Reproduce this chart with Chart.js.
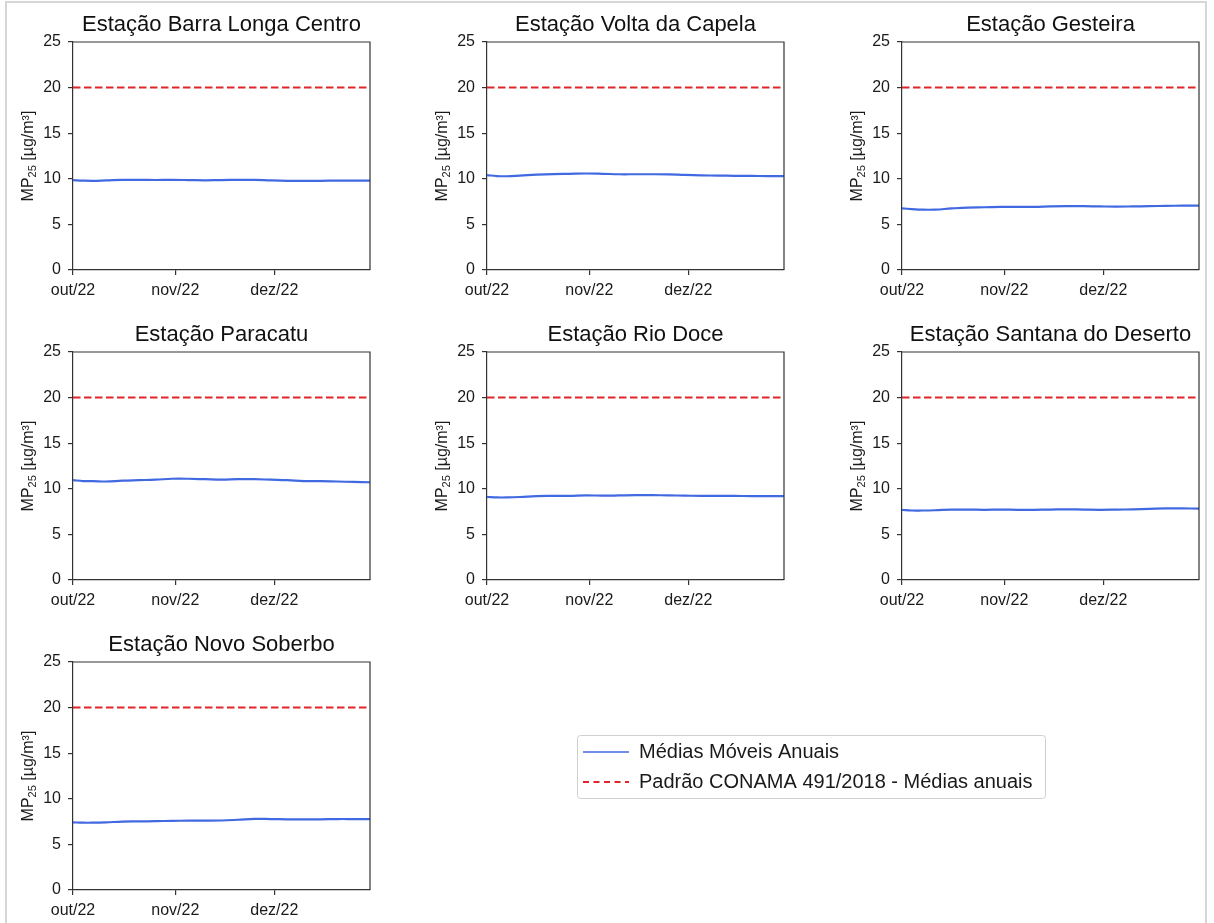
<!DOCTYPE html>
<html>
<head>
<meta charset="utf-8">
<script src="https://cdn.jsdelivr.net/npm/chart.js@4.4.1/dist/chart.umd.min.js"></script>
<style>
  html, body { margin: 0; padding: 0; background: #fff; overflow: hidden; }
  #page { position: relative; width: 1214px; height: 923px; overflow: hidden; }
  #frame { position: absolute; left: 5px; top: 1px; width: 1202px; height: 1000px; border: 2px solid #d6d6d6; box-sizing: border-box; }
  canvas { position: absolute; }
</style>
</head>
<body>
<div id="page">
  <div id="frame"></div>
</div>

<script type="text/javascript">
    // dias desde 01/out/22
    var days = [0, 3, 6, 10, 15, 20, 25, 30, 35, 40, 45, 50, 55, 60, 65, 70, 75, 80, 85, 90];
    var tickDays = [0, 31, 61];
    var tickLabels = ['out/22', 'nov/22', 'dez/22'];
    var yTicks = [0, 5, 10, 15, 20, 25];
    var limitValue = 20;

    var stations = [
        'Estação Barra Longa Centro',
        'Estação Volta da Capela',
        'Estação Gesteira',
        'Estação Paracatu',
        'Estação Rio Doce',
        'Estação Santana do Deserto',
        'Estação Novo Soberbo'
    ];

    var serieBarraLonga = [9.85, 9.8, 9.78, 9.82, 9.88, 9.88, 9.87, 9.88, 9.86, 9.83, 9.86, 9.88, 9.88, 9.82, 9.78, 9.77, 9.78, 9.8, 9.8, 9.8];
    var serieVoltaCapela = [10.4, 10.3, 10.28, 10.35, 10.45, 10.52, 10.55, 10.58, 10.55, 10.5, 10.5, 10.5, 10.48, 10.42, 10.38, 10.35, 10.33, 10.32, 10.3, 10.3];
    var serieGesteira = [6.75, 6.68, 6.62, 6.62, 6.75, 6.85, 6.88, 6.92, 6.92, 6.92, 6.97, 7.0, 7.0, 6.97, 6.95, 6.97, 7.0, 7.03, 7.05, 7.05];
    var serieParacatu = [10.95, 10.85, 10.85, 10.8, 10.9, 10.95, 11.0, 11.1, 11.1, 11.05, 11.0, 11.05, 11.05, 11.0, 10.95, 10.85, 10.85, 10.8, 10.75, 10.72];
    var serieRioDoce = [9.1, 9.05, 9.05, 9.1, 9.2, 9.22, 9.23, 9.28, 9.25, 9.27, 9.3, 9.3, 9.28, 9.25, 9.22, 9.22, 9.22, 9.2, 9.2, 9.2];
    var serieSantana = [7.7, 7.62, 7.62, 7.65, 7.72, 7.72, 7.7, 7.72, 7.7, 7.7, 7.72, 7.75, 7.72, 7.7, 7.72, 7.75, 7.8, 7.85, 7.85, 7.83];
    var serieNovoSoberbo = [7.42, 7.38, 7.38, 7.42, 7.5, 7.52, 7.55, 7.58, 7.6, 7.6, 7.62, 7.7, 7.8, 7.78, 7.75, 7.75, 7.75, 7.78, 7.78, 7.78];

    var series = [serieBarraLonga, serieVoltaCapela, serieGesteira, serieParacatu, serieRioDoce, serieSantana, serieNovoSoberbo];

    var legendLabels = ['Médias Móveis Anuais', 'Padrão CONAMA 491/2018 - Médias anuais'];
    var yTitleMain = 'MP', yTitleSub = '25', yTitleUnit = ' [µg/m³]';

    var FONT = "'Liberation Sans', Arial, sans-serif";
    var BLUE = '#4169e1', RED = '#e0262b', AXIS = '#333333', TEXT = '#1a1a1a';

    Chart.defaults.font.family = FONT;
    Chart.defaults.color = TEXT;

    // caixa completa (topo e direita) em volta da área do gráfico
    var boxPlugin = {
        id: 'boxPlugin',
        afterDraw: function(chart){
            var a = chart.chartArea, ctx = chart.ctx;
            ctx.save();
            ctx.strokeStyle = AXIS;
            ctx.lineWidth = 1.2;
            ctx.beginPath();
            ctx.moveTo(a.left, a.top);
            ctx.lineTo(a.right, a.top);
            ctx.lineTo(a.right, a.bottom);
            ctx.stroke();
            ctx.restore();
        }
    };

    // titulo do eixo y com subscrito
    var yTitlePlugin = {
        id: 'yTitlePlugin',
        afterDraw: function(chart){
            var a = chart.chartArea, ctx = chart.ctx;
            var big = '16px ' + FONT, small = '11px ' + FONT;
            ctx.save();
            ctx.translate(a.left - 44, (a.top + a.bottom) / 2);
            ctx.rotate(-Math.PI / 2);
            ctx.fillStyle = TEXT;
            ctx.textBaseline = 'middle';
            ctx.textAlign = 'left';
            ctx.font = big;
            var w1 = ctx.measureText(yTitleMain).width;
            var w3 = ctx.measureText(yTitleUnit).width;
            ctx.font = small;
            var w2 = ctx.measureText(yTitleSub).width;
            var x = -(w1 + w2 + w3) / 2;
            ctx.font = big;
            ctx.fillText(yTitleMain, x, 0);
            x += w1;
            ctx.font = small;
            ctx.fillText(yTitleSub, x, 4);
            x += w2;
            ctx.font = big;
            ctx.fillText(yTitleUnit, x, 0);
            ctx.restore();
        }
    };

    var page = document.getElementById('page');

    var makeCanvas = function(left, top, w, h){
        var c = document.createElement('canvas');
        c.width = w;
        c.height = h;
        c.style.left = left + 'px';
        c.style.top = top + 'px';
        c.style.width = w + 'px';
        c.style.height = h + 'px';
        page.appendChild(c);
        return c;
    };

    var createPanel = function(i){
        var row = Math.floor(i / 3), col = i % 3;
        var plotLeft = [73, 487, 902][col];
        var plotWidth = 297;
        var side = 72;
        var canvas = makeCanvas(plotLeft - side, row * 310, plotWidth + 2 * side, 310);

        var pts = days.map(function(d, k){ return {x: d, y: series[i][k]}; });
        var limitPts = [{x: days[0], y: limitValue}, {x: days[days.length - 1], y: limitValue}];

        new Chart(canvas.getContext('2d'), {
            type: 'line',
            data: {
                datasets: [
                    {label: legendLabels[0], data: pts, borderColor: BLUE, borderWidth: 2.2, pointRadius: 0, tension: 0.4, fill: false},
                    {label: legendLabels[1], data: limitPts, borderColor: RED, borderWidth: 2, borderDash: [7.5, 3.5], pointRadius: 0, fill: false}
                ]
            },
            options: {
                responsive: false,
                animation: false,
                devicePixelRatio: 1,
                layout: {padding: 0},
                plugins: {
                    legend: {display: false},
                    tooltip: {enabled: false},
                    title: {
                        display: true,
                        text: stations[i],
                        color: '#111',
                        font: {size: 22, weight: 'normal'},
                        padding: {top: 11.5, bottom: 4.1}
                    }
                },
                scales: {
                    x: {
                        type: 'linear',
                        min: days[0],
                        max: days[days.length - 1],
                        afterBuildTicks: function(scale){
                            scale.ticks = tickDays.map(function(v){ return {value: v}; });
                        },
                        afterFit: function(scale){ scale.height = 40; },
                        grid: {drawOnChartArea: false, drawTicks: true, tickLength: 5, color: AXIS, lineWidth: 1.2},
                        border: {display: true, color: AXIS, width: 1.2},
                        ticks: {
                            autoSkip: false,
                            maxRotation: 0,
                            padding: 6,
                            color: TEXT,
                            font: {size: 16},
                            callback: function(v){
                                var k = tickDays.indexOf(v);
                                return k >= 0 ? tickLabels[k] : '';
                            }
                        }
                    },
                    y: {
                        min: yTicks[0],
                        max: yTicks[yTicks.length - 1],
                        afterBuildTicks: function(scale){
                            scale.ticks = yTicks.map(function(v){ return {value: v}; });
                        },
                        afterFit: function(scale){ scale.width = side; },
                        grid: {drawOnChartArea: false, drawTicks: true, tickLength: 5, color: AXIS, lineWidth: 1.2},
                        border: {display: true, color: AXIS, width: 1.2},
                        ticks: {padding: 7, color: TEXT, font: {size: 16}}
                    },
                    // eixo vazio à direita, só para centralizar o título sobre o gráfico
                    yRight: {
                        position: 'right',
                        display: true,
                        afterFit: function(scale){ scale.width = side; },
                        grid: {display: false},
                        border: {display: false},
                        ticks: {display: false}
                    }
                }
            },
            plugins: [boxPlugin, yTitlePlugin]
        });
    };

    for(var i in stations){
        createPanel(parseInt(i));
    }

    // legenda separada
    var legendBox = {
        id: 'legendBox',
        beforeDraw: function(chart){
            var ctx = chart.ctx;
            ctx.save();
            ctx.strokeStyle = '#cfcfcf';
            ctx.lineWidth = 1;
            ctx.beginPath();
            ctx.roundRect(4.5, 3.5, 468, 63, 3);
            ctx.stroke();
            ctx.restore();
        }
    };

    var legendCanvas = makeCanvas(573, 732, 480, 160);
    new Chart(legendCanvas.getContext('2d'), {
        type: 'line',
        data: {
            datasets: [
                {label: legendLabels[0], data: [], borderColor: BLUE, borderWidth: 1.4},
                {label: legendLabels[1], data: [], borderColor: RED, borderWidth: 2, borderDash: [6, 4.5]}
            ]
        },
        options: {
            responsive: false,
            animation: false,
            devicePixelRatio: 1,
            scales: {x: {display: false}, y: {display: false}},
            plugins: {
                tooltip: {enabled: false},
                legend: {
                    display: true,
                    position: 'top',
                    align: 'start',
                    labels: {
                        usePointStyle: true,
                        pointStyleWidth: 46,
                        padding: 10,
                        color: TEXT,
                        font: {size: 20},
                        generateLabels: function(chart){
                            return chart.data.datasets.map(function(ds, k){
                                return {
                                    text: ds.label,
                                    strokeStyle: ds.borderColor,
                                    fillStyle: ds.borderColor,
                                    lineWidth: ds.borderWidth,
                                    lineDash: ds.borderDash || [],
                                    pointStyle: 'line',
                                    fontColor: TEXT,
                                    hidden: false,
                                    datasetIndex: k
                                };
                            });
                        }
                    }
                }
            }
        },
        plugins: [legendBox]
    });
</script>
</body>
</html>
